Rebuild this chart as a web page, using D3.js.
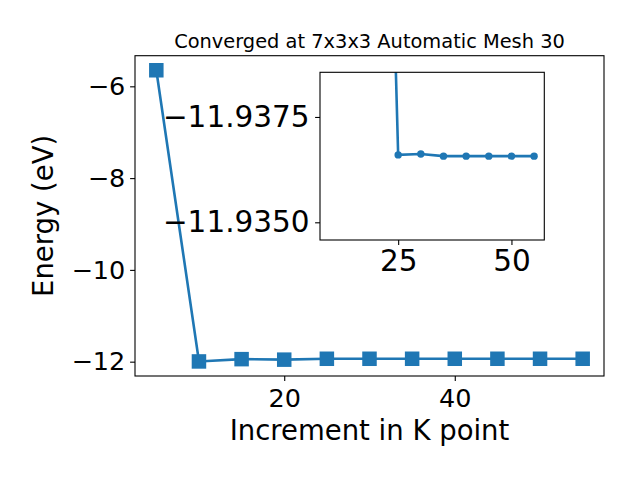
<!DOCTYPE html>
<html>
<head>
<meta charset="utf-8">
<script src="https://cdn.jsdelivr.net/npm/d3@7"></script>
<style>
  body { margin: 0; background: #fff; }
  text { font-family: "DejaVu Sans", sans-serif; fill: #000; }
</style>
</head>
<body>
<svg id="chart" width="640" height="480"></svg>
<script>
// ---- data ----
const kpoints = [5, 10, 15, 20, 25, 30, 35, 40, 45, 50, 55];
const energies = [-5.65, -11.995, -11.945, -11.956, -11.9366, -11.93662, -11.93657, -11.93657, -11.93657, -11.93657, -11.93657];
const insetStartIndex = 1; // inset shows K points from 10 onward
const mainXTicks = [20, 40];
const mainYTicks = [-12, -10, -8, -6];
const insetXTicks = [25, 50];
const insetYTicks = [-11.9375, -11.9350];
const insetYLimits = [-11.93856, -11.93458]; // top -> bottom (inverted axis)
const titleText = "Converged at 7x3x3 Automatic Mesh 30";
const xLabelText = "Increment in K point";
const yLabelText = "Energy (eV)";

const color = "#1f77b4";
const svg = d3.select("#chart");
const fmtMinus = s => s.replace("-", "\u2212");

// ---- main axes ----
const M = { left: 135, right: 604, top: 55.7, bottom: 376 };
const xExt = d3.extent(kpoints), yExt = d3.extent(energies);
const xPad = (xExt[1] - xExt[0]) * 0.05, yPad = (yExt[1] - yExt[0]) * 0.05;
const x = d3.scaleLinear().domain([xExt[0] - xPad, xExt[1] + xPad]).range([M.left, M.right]);
const y = d3.scaleLinear().domain([yExt[0] - yPad, yExt[1] + yPad]).range([M.bottom, M.top]);

const data = kpoints.map((k, i) => ({ k, e: energies[i] }));

const main = svg.append("g");
main.append("path")
  .datum(data)
  .attr("fill", "none").attr("stroke", color).attr("stroke-width", 2.6)
  .attr("d", d3.line().x(d => x(d.k)).y(d => y(d.e)));
const sq = 14.5;
main.selectAll("rect.m").data(data).enter().append("rect")
  .attr("class", "m")
  .attr("x", d => x(d.k) - sq / 2).attr("y", d => y(d.e) - sq / 2)
  .attr("width", sq).attr("height", sq).attr("fill", color);

// frame
main.append("rect").attr("x", M.left).attr("y", M.top)
  .attr("width", M.right - M.left).attr("height", M.bottom - M.top)
  .attr("fill", "none").attr("stroke", "#000").attr("stroke-width", 1.1);

const mainFont = "25.5px";
const xAxis = main.append("g").attr("transform", `translate(0,${M.bottom})`)
  .call(d3.axisBottom(x).tickValues(mainXTicks).tickSize(4.9).tickPadding(4.5).tickFormat(d3.format("d")));
xAxis.select(".domain").remove();
xAxis.selectAll("line").attr("stroke-width", 1.1);
xAxis.selectAll("text").attr("font-size", mainFont).attr("font-family", "DejaVu Sans")
  .attr("y", 31).attr("dy", 0);

const yAxis = main.append("g").attr("transform", `translate(${M.left},0)`)
  .call(d3.axisLeft(y).tickValues(mainYTicks).tickSize(4.9).tickPadding(4.8).tickFormat(d => fmtMinus(d3.format("d")(d))));
yAxis.select(".domain").remove();
yAxis.selectAll("line").attr("stroke-width", 1.1);
yAxis.selectAll("text").attr("font-size", mainFont).attr("font-family", "DejaVu Sans");

// labels
svg.append("text").attr("x", (M.left + M.right) / 2).attr("y", 47.5)
  .attr("text-anchor", "middle").attr("font-size", "19.4px").text(titleText);
svg.append("text").attr("x", (M.left + M.right) / 2).attr("y", 440)
  .attr("text-anchor", "middle").attr("font-size", "27.5px").text(xLabelText);
svg.append("text").attr("transform", `translate(53,${(M.top + M.bottom) / 2}) rotate(-90)`)
  .attr("text-anchor", "middle").attr("font-size", "27.5px").text(yLabelText);

// ---- inset ----
const I = { left: 320, right: 544.3, top: 72.3, bottom: 240 };
const insetData = data.slice(insetStartIndex);
const ixExt = d3.extent(insetData, d => d.k);
const ixPad = (ixExt[1] - ixExt[0]) * 0.05;
const ix = d3.scaleLinear().domain([ixExt[0] - ixPad, ixExt[1] + ixPad]).range([I.left, I.right]);
const iy = d3.scaleLinear().domain(insetYLimits).range([I.top, I.bottom]);

const inset = svg.append("g");
svg.append("defs").append("clipPath").attr("id", "insetClip")
  .append("rect").attr("x", I.left).attr("y", I.top)
  .attr("width", I.right - I.left).attr("height", I.bottom - I.top);
inset.append("rect").attr("x", I.left).attr("y", I.top)
  .attr("width", I.right - I.left).attr("height", I.bottom - I.top).attr("fill", "#fff");
const ig = inset.append("g").attr("clip-path", "url(#insetClip)");
ig.append("path").datum(insetData)
  .attr("fill", "none").attr("stroke", color).attr("stroke-width", 2.6)
  .attr("d", d3.line().x(d => ix(d.k)).y(d => iy(d.e)));
ig.selectAll("circle").data(insetData).enter().append("circle")
  .attr("cx", d => ix(d.k)).attr("cy", d => iy(d.e)).attr("r", 3.7).attr("fill", color);
inset.append("rect").attr("x", I.left).attr("y", I.top)
  .attr("width", I.right - I.left).attr("height", I.bottom - I.top)
  .attr("fill", "none").attr("stroke", "#000").attr("stroke-width", 1.1);

const insetFont = "29.5px";
const ixAxis = inset.append("g").attr("transform", `translate(0,${I.bottom})`)
  .call(d3.axisBottom(ix).tickValues(insetXTicks).tickSize(4.9).tickPadding(4.5).tickFormat(d3.format("d")));
ixAxis.select(".domain").remove();
ixAxis.selectAll("line").attr("stroke-width", 1.1);
ixAxis.selectAll("text").attr("font-size", insetFont).attr("font-family", "DejaVu Sans")
  .attr("y", 31).attr("dy", 0);

const iyAxis = inset.append("g").attr("transform", `translate(${I.left},0)`)
  .call(d3.axisLeft(iy).tickValues(insetYTicks).tickSize(4.9).tickPadding(5.5).tickFormat(d => fmtMinus(d3.format(".4f")(d))));
iyAxis.select(".domain").remove();
iyAxis.selectAll("line").attr("stroke-width", 1.1);
iyAxis.selectAll("text").attr("font-size", insetFont).attr("font-family", "DejaVu Sans");
</script>
</body>
</html>
